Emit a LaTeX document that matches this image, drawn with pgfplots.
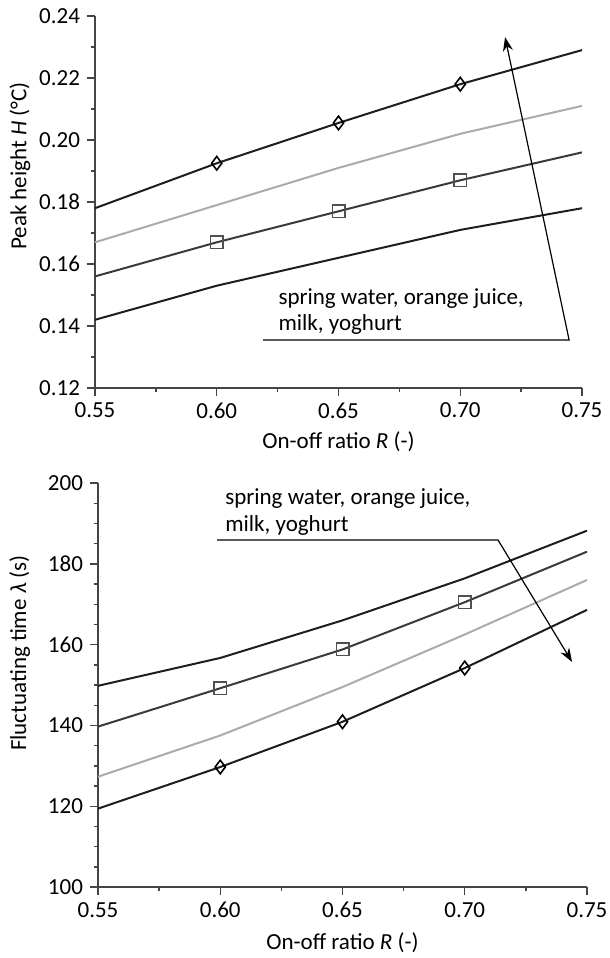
\documentclass[border=0pt]{standalone}
\usepackage{pgfplots}
\pgfplotsset{compat=1.18}
\usepackage{fontspec}
\setmainfont{Carlito}
\usetikzlibrary{arrows.meta}
\definecolor{axgray}{HTML}{454545}
\definecolor{lineblack}{HTML}{1E1E1E}
\definecolor{linedark}{HTML}{3A3A3A}
\definecolor{linelight}{HTML}{ABABAB}
\definecolor{markgray}{HTML}{505050}
\pgfplotsset{
  myaxis/.style={
    scale only axis,
    axis x line*=bottom,
    axis y line*=left,
    axis line style={color=axgray, line width=0.75pt},
    every tick/.style={color=axgray, line width=0.7pt},
    tick align=outside,
    major tick length=4pt,
    minor tick length=2pt,
    /pgf/number format/assume math mode=true,
    tick label style={font=\fontsize{11.5}{13}\selectfont, color=black},
    label style={font=\fontsize{11.5}{13}\selectfont},
    xmin=0.55, xmax=0.75,
    xtick={0.55,0.60,0.65,0.70,0.75},
    minor x tick num=1,
    xticklabel style={/pgf/number format/.cd, fixed, fixed zerofill, precision=2},
    xlabel={On-off ratio \textit{R} (-)},
    clip=false,
  },
  blk/.style={color=lineblack, line width=1pt, mark=none},
  drk/.style={color=linedark, line width=1pt},
  lgt/.style={color=linelight, line width=1pt, mark=none},
  dia/.style={mark=diamond, mark size=3.4pt, mark indices={2,3,4},
    mark options={solid, fill=white, draw=black, line width=0.8pt}},
  sq/.style={mark=square, mark size=3.1pt, mark indices={2,3,4},
    mark options={solid, fill=white, draw=markgray, line width=0.8pt}},
}
\begin{document}
\begin{tikzpicture}
\useasboundingbox (0,0) rectangle (305pt,-479pt);
% ---------------- top axis ----------------
\begin{axis}[myaxis,
  at={(47.5pt,-8pt)}, anchor=north west,
  width=243.5pt, height=186pt,
  ymin=0.12, ymax=0.24,
  ytick={0.12,0.14,0.16,0.18,0.20,0.22,0.24},
  minor y tick num=1,
  yticklabel style={/pgf/number format/.cd, fixed, fixed zerofill, precision=2},
  ylabel={Peak height \textit{H} (°C)},
  xlabel style={at={(axis description cs:0.5,-0.145)}, anchor=center},
  ylabel style={at={(axis description cs:-0.154,0.597)}, anchor=center},
]
\addplot[blk, dia] coordinates {(0.55,0.178) (0.60,0.1925) (0.65,0.2055) (0.70,0.218) (0.75,0.229)};
\addplot[lgt] coordinates {(0.55,0.167) (0.60,0.179) (0.65,0.191) (0.70,0.202) (0.75,0.211)};
\addplot[drk, sq] coordinates {(0.55,0.156) (0.60,0.167) (0.65,0.177) (0.70,0.187) (0.75,0.196)};
\addplot[blk] coordinates {(0.55,0.142) (0.60,0.153) (0.65,0.162) (0.70,0.171) (0.75,0.178)};
\draw[black, line width=0.6pt, -{Stealth[length=7pt,width=5pt]}]
  (axis cs:0.619,0.1355) -- (axis cs:0.7447,0.1355) -- (axis cs:0.7184,0.2332);
\node[anchor=base west, inner sep=0pt, font=\fontsize{11.5}{13}\selectfont]
  at (axis cs:0.6252,0.1468) {spring water, orange juice,};
\node[anchor=base west, inner sep=0pt, font=\fontsize{11.5}{13}\selectfont]
  at (axis cs:0.6252,0.1387) {milk, yoghurt};
\end{axis}
% ---------------- bottom axis ----------------
\begin{axis}[myaxis,
  at={(49pt,-241.5pt)}, anchor=north west,
  width=244.5pt, height=202pt,
  ymin=100, ymax=200,
  ytick={100,120,140,160,180,200},
  minor y tick num=3,
  ylabel={Fluctuating time \textit{λ} (s)},
  xlabel style={at={(axis description cs:0.5,-0.139)}, anchor=center},
  ylabel style={at={(axis description cs:-0.16,0.579)}, anchor=center},
]
\addplot[blk] coordinates {(0.55,149.8) (0.60,156.7) (0.65,166.0) (0.70,176.4) (0.75,188.2)};
\addplot[drk, sq] coordinates {(0.55,139.7) (0.60,149.2) (0.65,158.8) (0.70,170.5) (0.75,183.0)};
\addplot[lgt] coordinates {(0.55,127.3) (0.60,137.5) (0.65,149.5) (0.70,162.5) (0.75,176.0)};
\addplot[blk, dia] coordinates {(0.55,119.4) (0.60,129.7) (0.65,140.9) (0.70,154.2) (0.75,168.6)};
\draw[black, line width=0.6pt, -{Stealth[length=7pt,width=5pt]}]
  (axis cs:0.5987,185.9) -- (axis cs:0.7136,185.9) -- (axis cs:0.7439,155.7);
\node[anchor=base west, inner sep=0pt, font=\fontsize{11.5}{13}\selectfont]
  at (axis cs:0.6019,194.6) {spring water, orange juice,};
\node[anchor=base west, inner sep=0pt, font=\fontsize{11.5}{13}\selectfont]
  at (axis cs:0.6019,187.9) {milk, yoghurt};
\end{axis}
\end{tikzpicture}
\end{document}
